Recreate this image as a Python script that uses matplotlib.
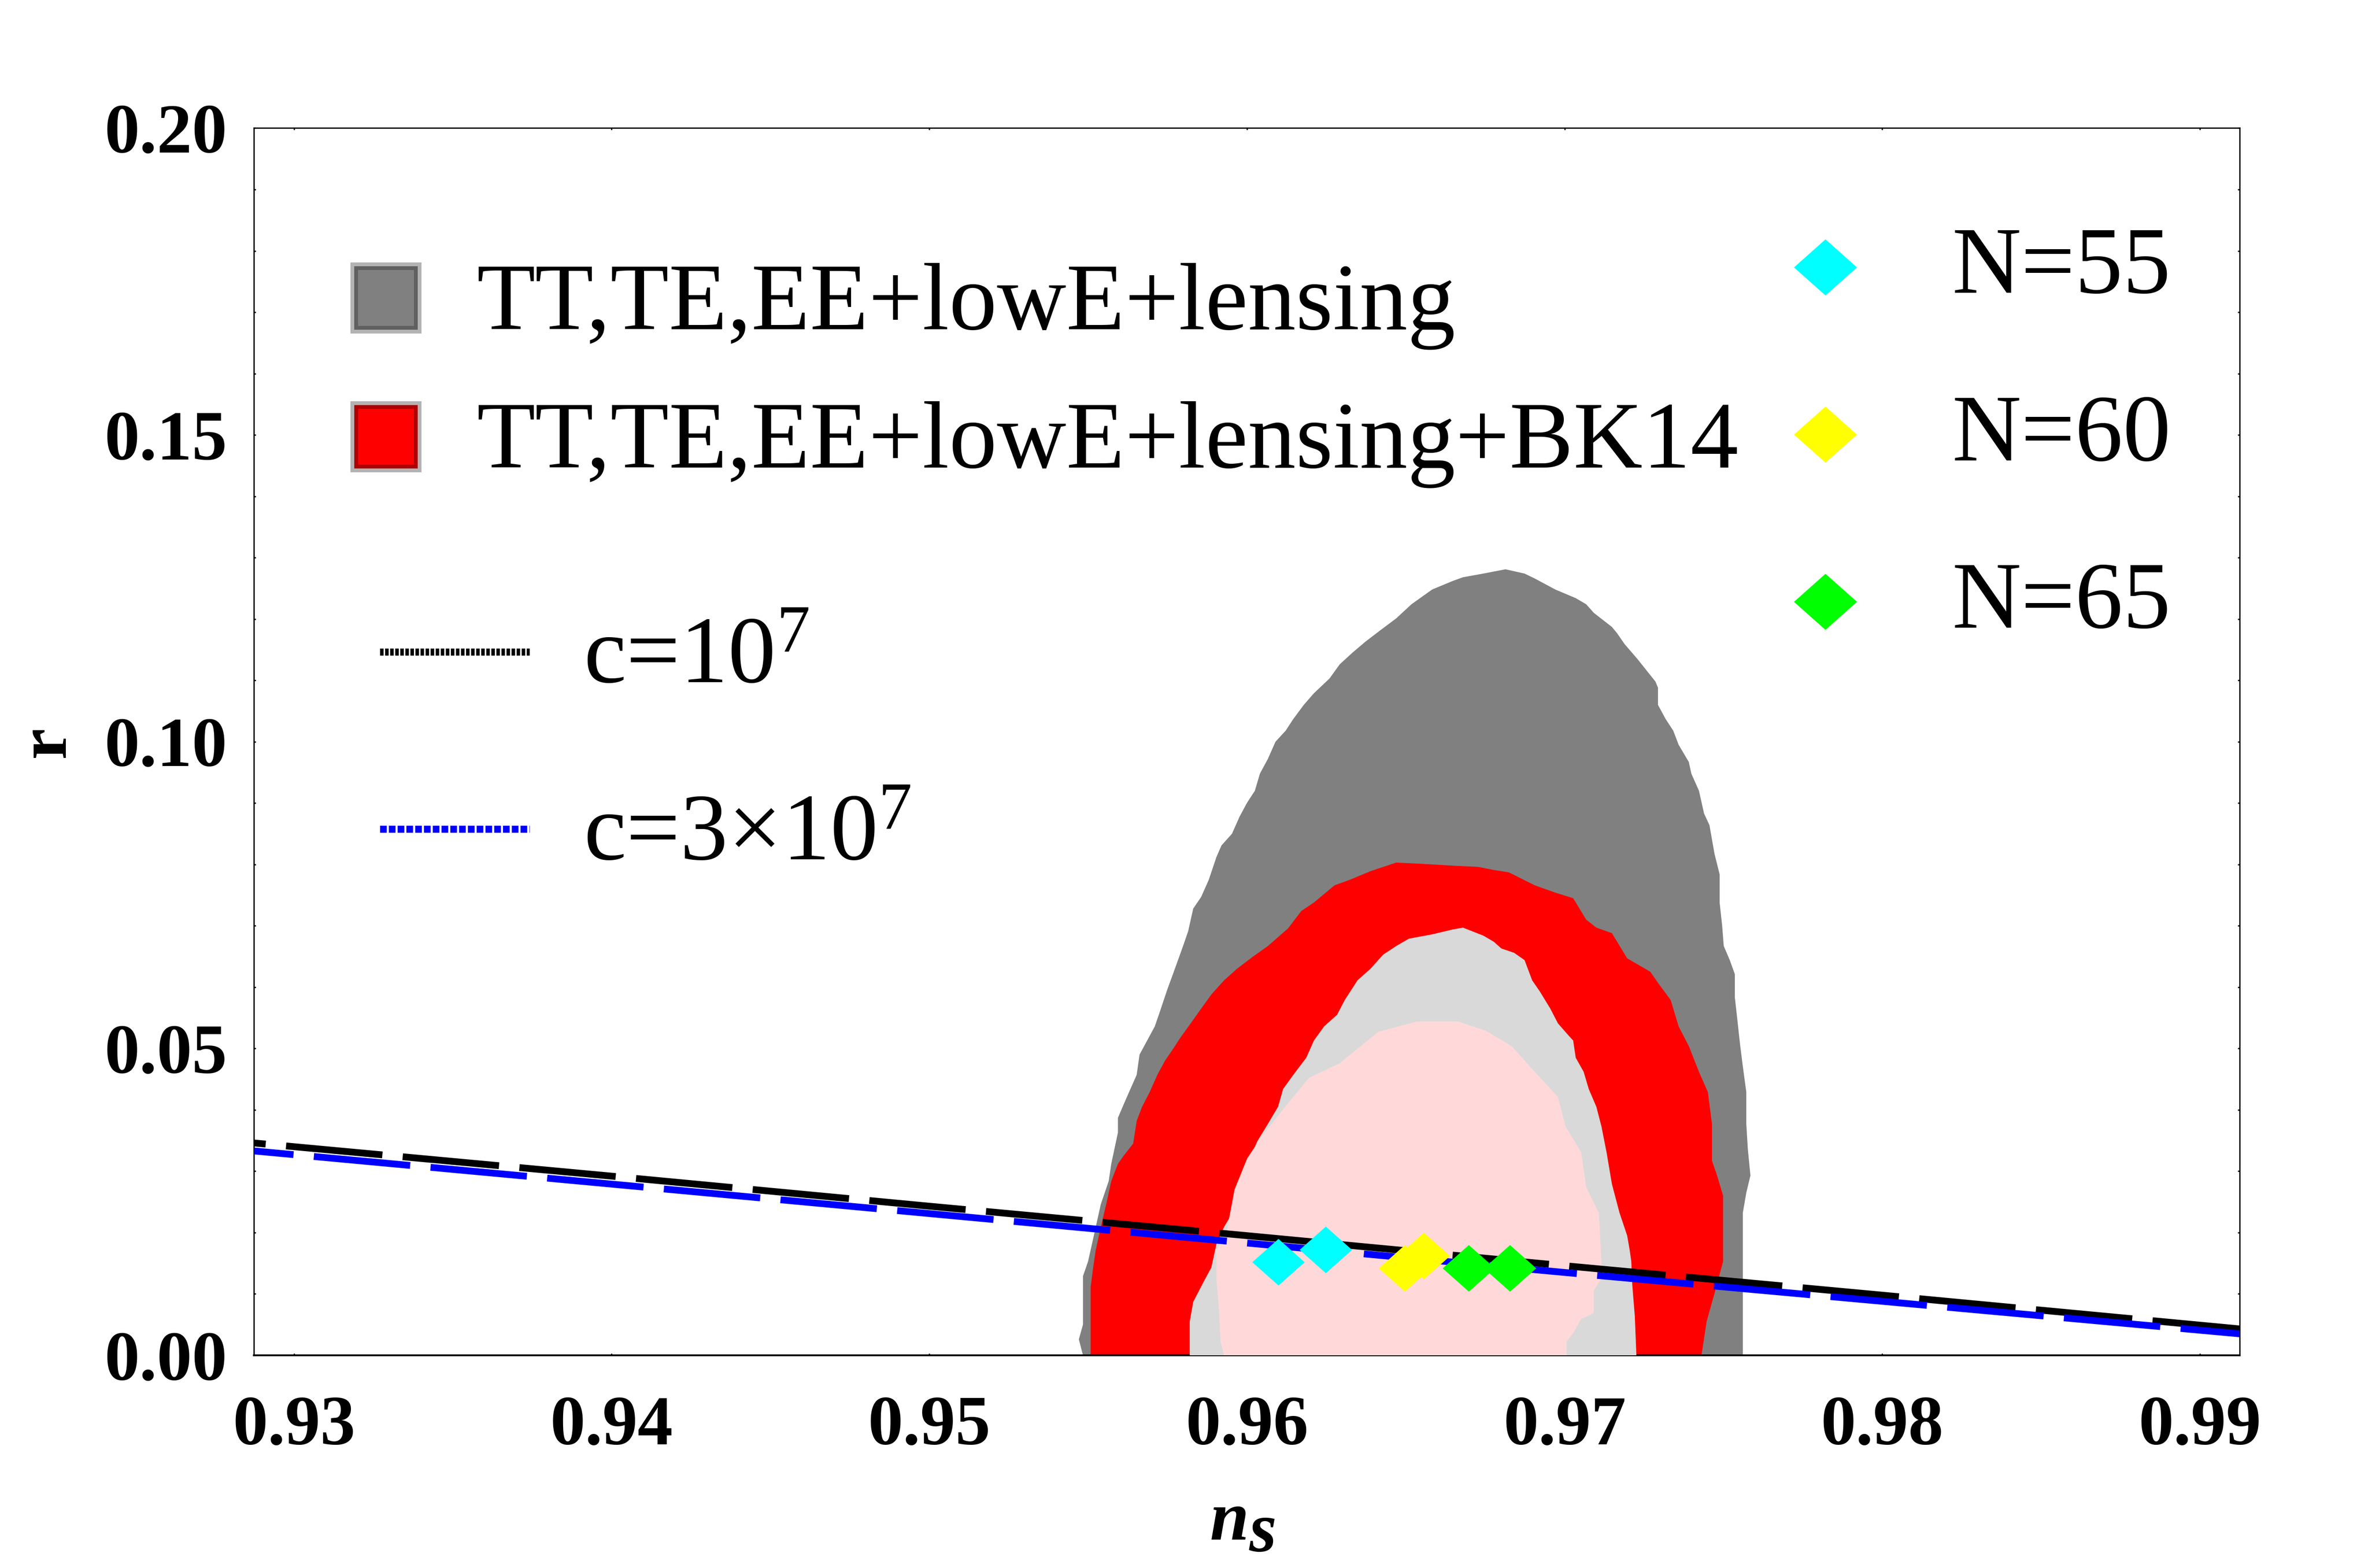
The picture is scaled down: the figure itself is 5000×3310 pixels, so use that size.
import numpy as np
import matplotlib
matplotlib.use("Agg")
import matplotlib.pyplot as plt
from matplotlib.patches import Rectangle
from matplotlib.lines import Line2D

plt.rcParams['font.family'] = ['Liberation Serif', 'DejaVu Serif']
plt.rcParams['mathtext.fontset'] = 'custom'
plt.rcParams['mathtext.rm'] = 'Liberation Serif'
plt.rcParams['mathtext.it'] = 'Liberation Serif:italic'
plt.rcParams['mathtext.bf'] = 'Liberation Serif:bold'
plt.rcParams['mathtext.bfit'] = 'Liberation Serif:italic:bold'
plt.rcParams['mathtext.default'] = 'regular'

# ---- data ----
# 95% / 68% regions, TT,TE,EE+lowE+lensing (gray) and +BK14 (red)
gray95_ns = [0.95484, 0.95471, 0.95484, 0.95484, 0.95500, 0.95516, 0.95540, 0.95565, 0.95573, 0.95594,
             0.95594, 0.95613, 0.95629, 0.95653, 0.95662, 0.95686, 0.95710, 0.95726, 0.95750, 0.95767,
             0.95783, 0.95799, 0.95815, 0.95831, 0.95856, 0.95880, 0.95904, 0.95920, 0.95953, 0.95977,
             0.96001, 0.96025, 0.96041, 0.96066, 0.96090, 0.96122, 0.96146, 0.96179, 0.96211, 0.96260,
             0.96292, 0.96332, 0.96373, 0.96421, 0.96470, 0.96518, 0.96583, 0.96648, 0.96680, 0.96744,
             0.96814, 0.96874, 0.96906, 0.96971, 0.97035, 0.97068, 0.97092, 0.97149, 0.97165, 0.97189,
             0.97229, 0.97286, 0.97294, 0.97294, 0.97318, 0.97342, 0.97359, 0.97391, 0.97399, 0.97423,
             0.97439, 0.97456, 0.97472, 0.97488, 0.97488, 0.97496, 0.97501, 0.97520, 0.97536, 0.97536,
             0.97544, 0.97552, 0.97561, 0.97572, 0.97572, 0.97577, 0.97585, 0.97572, 0.97561, 0.97561]
gray95_r = [0.0, 0.0026, 0.0050, 0.0129, 0.0153, 0.0190, 0.0246, 0.0284, 0.0312, 0.0363,
            0.0387, 0.0410, 0.0429, 0.0457, 0.0490, 0.0513, 0.0536, 0.0560, 0.0597, 0.0621,
            0.0644, 0.0667, 0.0691, 0.0728, 0.0747, 0.0775, 0.0812, 0.0831, 0.0850, 0.0878,
            0.0901, 0.0920, 0.0948, 0.0972, 0.1000, 0.1018, 0.1037, 0.1060, 0.1079, 0.1103,
            0.1126, 0.1145, 0.1163, 0.1182, 0.1201, 0.1224, 0.1248, 0.1262, 0.1268, 0.1274,
            0.1281, 0.1274, 0.1266, 0.1248, 0.1234, 0.1224, 0.1210, 0.1187, 0.1177, 0.1159,
            0.1135, 0.1098, 0.1088, 0.1060, 0.1037, 0.1018, 0.0995, 0.0967, 0.0948, 0.0920,
            0.0883, 0.0864, 0.0817, 0.0784, 0.0738, 0.0700, 0.0667, 0.0644, 0.0621, 0.0583,
            0.0546, 0.0508, 0.0471, 0.0429, 0.0377, 0.0335, 0.0293, 0.0265, 0.0232, 0.0]

red95_ns = [0.95508, 0.95508, 0.95516, 0.95524, 0.95540, 0.95557, 0.95573, 0.95594, 0.95613, 0.95642,
            0.95653, 0.95670, 0.95694, 0.95718, 0.95742, 0.95767, 0.95791, 0.95823, 0.95856, 0.95888,
            0.95928, 0.95969, 0.96017, 0.96066, 0.96130, 0.96171, 0.96211, 0.96276, 0.96324, 0.96389,
            0.96470, 0.96550, 0.96648, 0.96728, 0.96777, 0.96825, 0.96906, 0.96971, 0.97027, 0.97068,
            0.97100, 0.97149, 0.97197, 0.97270, 0.97294, 0.97334, 0.97359, 0.97391, 0.97423, 0.97451,
            0.97464, 0.97464, 0.97480, 0.97499, 0.97499, 0.97472, 0.97447, 0.97431]
red95_r = [0.0, 0.0111, 0.0143, 0.0171, 0.0209, 0.0246, 0.0284, 0.0312, 0.0326, 0.0345,
           0.0382, 0.0405, 0.0429, 0.0457, 0.0480, 0.0499, 0.0518, 0.0541, 0.0565, 0.0588,
           0.0611, 0.0630, 0.0649, 0.0667, 0.0696, 0.0724, 0.0738, 0.0766, 0.0775, 0.0789,
           0.0803, 0.0801, 0.0798, 0.0796, 0.0791, 0.0787, 0.0766, 0.0754, 0.0745, 0.0710,
           0.0697, 0.0688, 0.0647, 0.0625, 0.0607, 0.0579, 0.0536, 0.0504, 0.0462, 0.0429,
           0.0377, 0.0317, 0.0293, 0.0260, 0.0153, 0.0101, 0.0055, 0.0]

gray68_ns = [0.95820, 0.95820, 0.95831, 0.95864, 0.95888, 0.95904, 0.95928, 0.95944, 0.95961, 0.95985,
             0.96009, 0.96033, 0.96066, 0.96098, 0.96114, 0.96146, 0.96187, 0.96211, 0.96243, 0.96284,
             0.96308, 0.96348, 0.96389, 0.96429, 0.96470, 0.96510, 0.96583, 0.96648, 0.96680, 0.96744,
             0.96777, 0.96801, 0.96841, 0.96874, 0.96898, 0.96922, 0.96955, 0.96979, 0.97011, 0.97027,
             0.97035, 0.97060, 0.97076, 0.97100, 0.97116, 0.97132, 0.97149, 0.97173, 0.97197, 0.97205,
             0.97210, 0.97213, 0.97221, 0.97226]
gray68_r = [0.0, 0.0055, 0.0087, 0.0120, 0.0143, 0.0181, 0.0209, 0.0223, 0.0265, 0.0298,
            0.0321, 0.0349, 0.0377, 0.0405, 0.0434, 0.0457, 0.0485, 0.0513, 0.0536, 0.0555,
            0.0579, 0.0611, 0.0630, 0.0653, 0.0667, 0.0679, 0.0686, 0.0694, 0.0697, 0.0684,
            0.0674, 0.0663, 0.0656, 0.0644, 0.0611, 0.0593, 0.0565, 0.0541, 0.0522, 0.0513,
            0.0485, 0.0462, 0.0434, 0.0405, 0.0373, 0.0331, 0.0279, 0.0232, 0.0195, 0.0171,
            0.0153, 0.0115, 0.0064, 0.0]

red68_ns = [0.95928, 0.95917, 0.95912, 0.95904, 0.95904, 0.95936, 0.95961, 0.96001, 0.96050, 0.96114,
            0.96195, 0.96292, 0.96413, 0.96534, 0.96664, 0.96752, 0.96833, 0.96906, 0.96979, 0.97003,
            0.97052, 0.97068, 0.97108, 0.97116, 0.97116, 0.97092, 0.97092, 0.97052, 0.97027, 0.97006,
            0.97006]
red68_r = [0.0, 0.0022, 0.0073, 0.0125, 0.0171, 0.0200, 0.0270, 0.0321, 0.0359, 0.0401,
           0.0452, 0.0476, 0.0527, 0.0544, 0.0544, 0.0529, 0.0504, 0.0462, 0.0421, 0.0373,
           0.0331, 0.0274, 0.0232, 0.0153, 0.0125, 0.0106, 0.0069, 0.0059, 0.0036, 0.0022,
           0.0]

# model curves
line_ns = [0.92875, 0.94, 0.95, 0.96, 0.97, 0.98, 0.99125]
r_c1e7 = [0.0346, 0.0292, 0.0243, 0.0195, 0.0146, 0.0098, 0.0043]
r_c3e7 = [0.0333, 0.0279, 0.0231, 0.0183, 0.0135, 0.0088, 0.0035]

# predictions for N = 55, 60, 65 (two points each)
N_labels = ['N=55', 'N=60', 'N=65']
N_colors = ['#00ffff', '#ffff00', '#00ff00']
N_ns = [[0.96098, 0.96248], [0.96497, 0.96557], [0.96698, 0.96828]]
N_r = [[0.01521, 0.01720], [0.01423, 0.01622], [0.01423, 0.01423]]

xticks = [0.93, 0.94, 0.95, 0.96, 0.97, 0.98, 0.99]
xtick_labels = ['0.93', '0.94', '0.95', '0.96', '0.97', '0.98', '0.99']
yticks = [0.00, 0.05, 0.10, 0.15, 0.20]
ytick_labels = ['0.00', '0.05', '0.10', '0.15', '0.20']

band_labels = ['TT,TE,EE+lowE+lensing', 'TT,TE,EE+lowE+lensing+BK14']
line_labels = ['c=$10^{7}$', 'c=3\u00d7$10^{7}$']

# ---- figure ----
W, H = 5000, 3310
fig = plt.figure(figsize=(15.45, 10.228))
ax = fig.add_axes([0.1072, 0.13565, 0.8386, 0.78263])

ax.fill(gray95_ns, gray95_r, color='#808080', lw=0, zorder=1)
ax.fill(red95_ns, red95_r, color='#ff0000', lw=0, zorder=2)
ax.fill(gray68_ns, gray68_r, color='#d9d9d9', lw=0, zorder=3)
ax.fill(red68_ns, red68_r, color='#ffd9d9', lw=0, zorder=4)

ax.plot(line_ns, r_c1e7, color='black', lw=3.2, ls=(12.5, (14.2, 3.0)), zorder=5)
ax.plot(line_ns, r_c3e7, color='#0000ff', lw=3.2, ls=(8.4, (14.2, 3.0)), zorder=6)

diamond = [(-1, 0), (0, -0.89), (1, 0), (0, 0.89), (-1, 0)]
for xs, ys, c in zip(N_ns, N_r, N_colors):
    ax.plot(xs, ys, ls='none', marker=diamond, ms=24.6, mew=0, color=c, zorder=7)

ax.set_xlim(0.92874, 0.99125)
ax.set_ylim(0.0, 0.2)
ax.set_xticks(xticks)
ax.set_xticklabels(xtick_labels, fontsize=33, fontweight='bold')
ax.set_yticks(yticks)
ax.set_yticklabels(ytick_labels, fontsize=33, fontweight='bold')
ax.set_yticks(np.arange(0, 0.2001, 0.01), minor=True)
ax.tick_params(which='both', direction='in', length=0.8, width=0.6, top=True, right=True)
ax.tick_params(axis='x', pad=19)
ax.tick_params(axis='y', pad=12.5)
for s in ['left', 'right', 'top']:
    ax.spines[s].set_linewidth(0.6)
ax.spines['bottom'].set_linewidth(0.85)

# axis labels
fig.text(101 / W, 1 - 1566 / H, 'r', rotation=90, fontsize=33, fontweight='bold',
         ha='center', va='center')
fig.text(2555 / W, 1 - 3250 / H, 'n', fontsize=33, fontweight='bold', style='italic',
         ha='left', va='baseline')
# the lowered "s" as mathtext so that its box ends near the glyph
fig.text(2637 / W, 1 - 3275 / H, r'$\mathbfit{s}$', fontsize=33, ha='left', va='baseline')


# ---- hand-placed legends (pixel positions of the original) ----
def box(cx, cy, size, face):
    fig.add_artist(Rectangle(((cx - size / 2) / W, 1 - (cy + size / 2) / H), size / W, size / H,
                             transform=fig.transFigure, facecolor=face, edgecolor='none'))


for cy, edge, face, lab, base in zip([629, 922], ['#606060', '#b00000'], ['#808080', '#ff0000'],
                                     band_labels, [694, 986]):
    box(815, cy, 150, '#b3b3b3')
    box(815, cy, 134, edge)
    box(815, cy, 118, face)
    fig.text(1006 / W, 1 - base / H, lab, fontsize=45, ha='left', va='baseline')

for ly, col, dsh, lab, base in zip([1376, 1750], ['black', '#0000ff'], [(0.5, 0.22), (0.95, 0.3)],
                                   line_labels, [1440, 1814]):
    fig.add_artist(Line2D([802 / W, 1118 / W], [1 - ly / H] * 2, transform=fig.transFigure,
                          color=col, lw=3.3, dashes=dsh, dash_capstyle='butt'))
    fig.text(1232 / W, 1 - base / H, lab, fontsize=45, ha='left', va='baseline')

for cy, col, lab, base in zip([564, 917, 1270], N_colors, N_labels, [618, 972, 1325]):
    fig.add_artist(Line2D([3854 / W], [1 - cy / H], transform=fig.transFigure, ls='none',
                          marker=diamond, ms=29.6, mew=0, color=col))
    fig.text(4121 / W, 1 - base / H, lab, fontsize=45, ha='left', va='baseline')

fig.savefig('out.png', dpi=W / 15.45)
